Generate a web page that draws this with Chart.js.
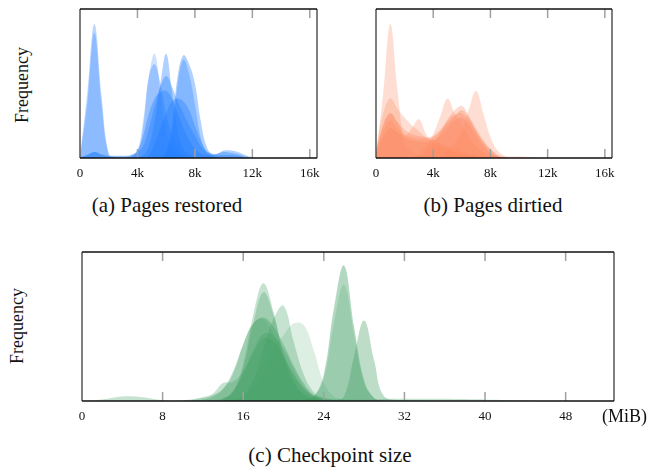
<!DOCTYPE html>
<html>
<head>
<meta charset="utf-8">
<script src="https://cdn.jsdelivr.net/npm/chart.js@4.4.0/dist/chart.umd.min.js"></script>
<style>
  html, body { margin: 0; padding: 0; background: #fff; }
  body {
    width: 660px; height: 468px; position: relative; overflow: hidden;
    font-family: "Liberation Serif", "Times New Roman", serif; color: #111;
  }
  canvas { position: absolute; }
  .lbl  { position: absolute; white-space: nowrap; line-height: 1; }
  .ylab { font-size: 18px; transform: translate(-50%, -50%) rotate(-90deg); }
  .cap  { font-size: 21px; transform: translateX(-50%); }
</style>
</head>
<body>
<canvas id="c-restored" width="280" height="190" style="left:60px;top:0"></canvas>
<canvas id="c-dirtied"  width="280" height="190" style="left:356px;top:0"></canvas>
<canvas id="c-ckpt"     width="580" height="200" style="left:62px;top:240px"></canvas>

<div class="lbl ylab" style="left:22px;top:85px">Frequency</div>
<div class="lbl ylab" style="left:17px;top:326px">Frequency</div>
<div class="lbl cap" style="left:167px;top:195px">(a) Pages restored</div>
<div class="lbl cap" style="left:493px;top:195px">(b) Pages dirtied</div>
<div class="lbl cap" style="left:330px;top:445px">(c) Checkpoint size</div>
<div class="lbl" style="left:602px;top:407px;font-size:18px">(MiB)</div>

<script>
'use strict';

// ── Tick values ───────────────────────────────────────
const pageTicks = [0, 4000, 8000, 12000, 16000];
const mibTicks  = [0, 8, 16, 24, 32, 40, 48];

// ── Data: (a) pages restored, density per run ─────────
const restoredPages = [0, 500, 1000, 1500, 2000, 2500, 3000, 3500, 4000,
  4400, 4800, 5200, 5600, 6000, 6400, 6800, 7200, 7600, 8000, 8400, 8800,
  9200, 9600, 10000, 10500, 11000, 11500, 12000, 12500];
const restoredRuns = [
  [1, 43, 90, 42, 3, 0.5, 0, 0, 0,  0, 0, 0, 0, 0, 0, 0, 0, 0, 0, 0, 0, 0, 0, 0, 0, 0, 0, 0, 0],
  [0.5, 36, 84, 36, 2, 0, 0, 0, 0,  0, 0, 0, 0, 0, 0, 0, 0, 0, 0, 0, 0, 0, 0, 0, 0, 0, 0, 0, 0],
  [0, 0, 0, 0, 0, 0, 0, 0.5, 4,  20, 55, 70, 45, 18, 6, 2, 0.5, 0, 0, 0, 0, 0, 0, 0, 0, 0, 0, 0, 0],
  [0, 0, 0, 0, 0, 0, 0, 0.5, 5,  25, 55, 63, 50, 30, 15, 6, 2, 0.5, 0, 0, 0, 0, 0, 0, 0, 0, 0, 0, 0],
  [0, 0, 0, 0, 0, 0, 0, 0, 0.5,  2, 8, 25, 50, 70, 45, 18, 6, 2, 0.5, 0, 0, 0, 0, 0, 0, 0, 0, 0, 0],
  [0, 0, 0, 0, 0, 0, 0, 0, 0,  0, 0, 0, 0, 5, 22, 55, 69, 63, 50, 25, 8, 2, 0.5, 0, 0, 0, 0, 0, 0],
  [0, 0, 0, 0, 0, 0, 0, 0, 0,  0, 0, 0, 0, 2, 15, 50, 66, 56, 36, 14, 4, 1, 0, 0, 0, 0, 0, 0, 0],
  [0.5, 2, 4, 2.5, 1.5, 1.5, 1.5, 2, 4,  8, 20, 35, 48, 55, 48, 38, 30, 22, 15, 8, 4, 2.5, 3, 5, 5, 4, 2, 0.5, 0],
  [0.5, 2, 4, 2, 1, 1, 1, 1.5, 5,  15, 30, 40, 44, 45, 40, 30, 20, 12, 6, 3, 2, 2, 3, 4, 3.5, 2.5, 1, 0, 0],
  [0, 0, 0, 0, 0, 0, 0, 0, 0,  0, 2, 10, 20, 30, 38, 40, 38, 32, 22, 12, 5, 3, 2, 2, 2, 1.5, 0.5, 0, 0],
];

// ── Data: (b) pages dirtied ───────────────────────────
const dirtiedPages = [0, 500, 1000, 1500, 2000, 2500, 3000, 3500, 4000, 4500,
  5000, 5500, 6000, 6500, 7000, 7500, 8000, 8500, 9000, 9500, 10000, 10500,
  11000, 11500, 12000];
const dirtiedRuns = [
  [3, 43, 90, 46, 10, 4, 2, 1, 0.5, 0, 0, 0, 0, 0, 0, 0, 0, 0, 0, 0, 0, 0, 0, 0, 0],
  [5, 30, 40, 33, 27, 22, 18, 14, 12, 10, 8, 6, 4, 3, 2, 1, 0.5, 0, 0, 0, 0, 0, 0, 0, 0],
  [4, 22, 30, 24, 15, 20, 26, 16, 10, 8, 6, 4, 3, 2, 1, 0.5, 0, 0, 0, 0, 0, 0, 0, 0, 0],
  [0, 0, 0, 0, 0, 0, 3, 8, 16, 28, 40, 30, 22, 14, 8, 4, 2, 1, 0, 0, 0, 0, 0, 0, 0],
  [0, 0, 0, 0, 0, 0, 0, 5, 10, 17, 26, 32, 35, 28, 20, 12, 6, 2, 0.5, 0, 0, 0, 0, 0, 0],
  [0, 0, 0, 0, 0, 0, 0, 0, 0, 0, 5, 10, 18, 33, 45, 30, 14, 5, 1.5, 1, 1, 0.8, 0.3, 0, 0],
  [5, 22, 30, 24, 19, 16, 15, 14, 15, 19, 25, 29, 30, 25, 18, 11, 6, 2, 0.5, 0, 0, 0, 0, 0, 0],
  [4, 18, 25, 20, 16, 14, 13, 13, 14, 18, 23, 28, 32, 27, 18, 10, 4, 1, 0, 0, 0, 0, 0, 0, 0],
  [3, 14, 20, 17, 14, 12, 11, 11, 12, 15, 20, 25, 27, 22, 15, 8, 3, 1, 0, 0, 0, 0, 0, 0, 0],
];

// ── Data: (c) checkpoint size (MiB) ───────────────────
const ckptMiB = [0, 2, 4, 6, 8, 10, 12, 13, 14, 15, 16, 17, 18, 19, 20, 21, 22,
  23, 24, 25, 26, 27, 28, 29, 30, 32, 36, 40, 44, 48];
const ckptRuns = [
  [0, 0, 0, 0, 0, 0, 0, 0, 1.5, 6, 25, 58, 79, 60, 30, 12, 4, 1, 0, 0, 0, 0, 0, 0, 0, 0, 0, 0, 0, 0],
  [0, 0, 0, 0, 0, 0, 0, 0.5, 2, 6, 22, 52, 73, 58, 32, 14, 5, 1.5, 0.5, 0, 0, 0, 0, 0, 0, 0, 0, 0, 0, 0],
  [0, 0, 0, 0, 0, 0, 0, 0, 0, 1, 4, 14, 35, 55, 64, 40, 18, 6, 2, 0.5, 0, 0, 0, 0, 0, 0, 0, 0, 0, 0],
  [0, 0, 0, 0, 0, 0, 0, 0, 0, 1, 3, 8, 20, 35, 44, 52, 51, 34, 12, 3, 1, 0, 0, 0, 0, 0, 0, 0, 0, 0],
  [0, 0, 0, 0, 0, 0, 1, 3, 8, 20, 38, 52, 56, 50, 38, 24, 12, 4, 1, 0, 0, 0, 0, 0, 0, 0, 0, 0, 0, 0],
  [0, 0, 0, 0, 0, 0, 2, 4, 8, 18, 38, 52, 55, 45, 30, 18, 9, 4, 2, 1, 0, 0, 0, 0, 0, 0, 0, 0, 0, 0],
  [0, 0, 0, 0, 0, 0, 0, 0, 0, 0, 0, 0, 0, 0, 0, 0, 1, 3, 18, 62, 91, 50, 14, 2, 0, 0, 0, 0, 0, 0],
  [0, 0, 0, 0, 0, 0, 0, 0, 0, 0, 0, 0, 0, 0, 0, 0, 1, 3, 15, 52, 78, 45, 12, 2, 0, 0, 0, 0, 0, 0],
  [0, 0, 0, 0, 0, 0, 0, 0, 0, 0, 0, 0, 0, 0, 0, 0, 0, 0, 0, 0.5, 3, 30, 54, 27, 3, 0.5, 0, 0, 0, 0],
  [0, 1, 3, 2.5, 0.5, 0.5, 2.5, 5, 12, 13, 20, 32, 42, 40, 30, 18, 8, 3, 1.5, 1, 1, 1, 1, 1, 1.5, 1.5, 1.5, 1, 0.3, 0],
  [0, 0, 0, 0, 0, 0, 0, 0, 1, 7, 18, 34, 45, 44, 35, 22, 10, 3, 1, 0, 0, 0, 0, 0, 0, 0, 0, 0, 0, 0],
];

// ── Styles ────────────────────────────────────────────
const BLUE   = '30,122,255';
const CORAL  = '252,135,95';
const GREEN  = '66,158,100';
const restoredAlpha = [0.3, 0.3, 0.22, 0.3, 0.35, 0.35, 0.3, 0.35, 0.35, 0.35];
const dirtiedAlpha  = [0.28, 0.28, 0.28, 0.28, 0.3, 0.28, 0.32, 0.32, 0.32];
const ckptAlpha     = [0.3, 0.3, 0.3, 0.18, 0.35, 0.25, 0.4, 0.22, 0.35, 0.3, 0.3];

const FONT = { family: "'Liberation Serif', 'Times New Roman', serif", size: 13 };

// inward tick marks + frame, drawn on top of the fills
const framePlugin = {
  id: 'frame',
  afterDatasetsDraw(chart) {
    const { ctx, chartArea: a, scales: { x } } = chart;
    ctx.save();
    ctx.strokeStyle = '#a0a0a0';
    ctx.lineWidth = 1.5;
    x.ticks.forEach(t => {
      const px = x.getPixelForValue(t.value);
      if (px <= a.left + 1 || px >= a.right - 1) return;
      ctx.beginPath();
      ctx.moveTo(px, a.bottom); ctx.lineTo(px, a.bottom - 9);
      ctx.moveTo(px, a.top);    ctx.lineTo(px, a.top + 9);
      ctx.stroke();
    });
    ctx.strokeStyle = '#555';
    ctx.beginPath();
    ctx.moveTo(a.left, a.top);  ctx.lineTo(a.left, a.bottom);
    ctx.moveTo(a.right, a.top); ctx.lineTo(a.right, a.bottom);
    ctx.stroke();
    ctx.strokeStyle = '#111';
    ctx.beginPath();
    ctx.moveTo(a.left, a.top);    ctx.lineTo(a.right, a.top);
    ctx.moveTo(a.left, a.bottom); ctx.lineTo(a.right, a.bottom);
    ctx.stroke();
    ctx.restore();
  },
};

function makeDensity(id, xs, runs, alphas, rgb, xMax, tickVals, fmt, padding) {
  return new Chart(document.getElementById(id), {
    type: 'line',
    data: {
      datasets: runs.map((ys, i) => ({
        data: xs.map((x, j) => ({ x, y: ys[j] })),
        fill: 'origin',
        backgroundColor: `rgba(${rgb},${alphas[i]})`,
        borderWidth: 0,
        pointRadius: 0,
        tension: 0.4,
      })),
    },
    options: {
      responsive: false,
      animation: false,
      events: [],
      layout: { padding },
      plugins: { legend: { display: false }, tooltip: { enabled: false } },
      scales: {
        x: {
          type: 'linear', min: 0, max: xMax,
          grid: { display: false, drawTicks: false },
          border: { display: false },
          ticks: {
            autoSkip: false, maxRotation: 0,
            padding: 8, color: '#111', font: FONT, callback: fmt,
          },
          afterBuildTicks: s => { s.ticks = tickVals.map(value => ({ value })); },
          afterFit: s => { s.height = 30; },
        },
        y: { display: false, min: 0, max: 100 },
      },
    },
    plugins: [framePlugin],
  });
}

const kFmt = v => (v === 0 ? '0' : `${v / 1000}k`);

makeDensity('c-restored', restoredPages, restoredRuns, restoredAlpha, BLUE,
  16500, pageTicks, kFmt, { left: 20, right: 23, top: 9, bottom: 2 });
makeDensity('c-dirtied', dirtiedPages, dirtiedRuns, dirtiedAlpha, CORAL,
  16500, pageTicks, kFmt, { left: 20, right: 24, top: 9, bottom: 2 });
makeDensity('c-ckpt', ckptMiB, ckptRuns, ckptAlpha, GREEN,
  52.8, mibTicks, v => `${v}`, { left: 20, right: 28, top: 12, bottom: 9 });
</script>
</body>
</html>
